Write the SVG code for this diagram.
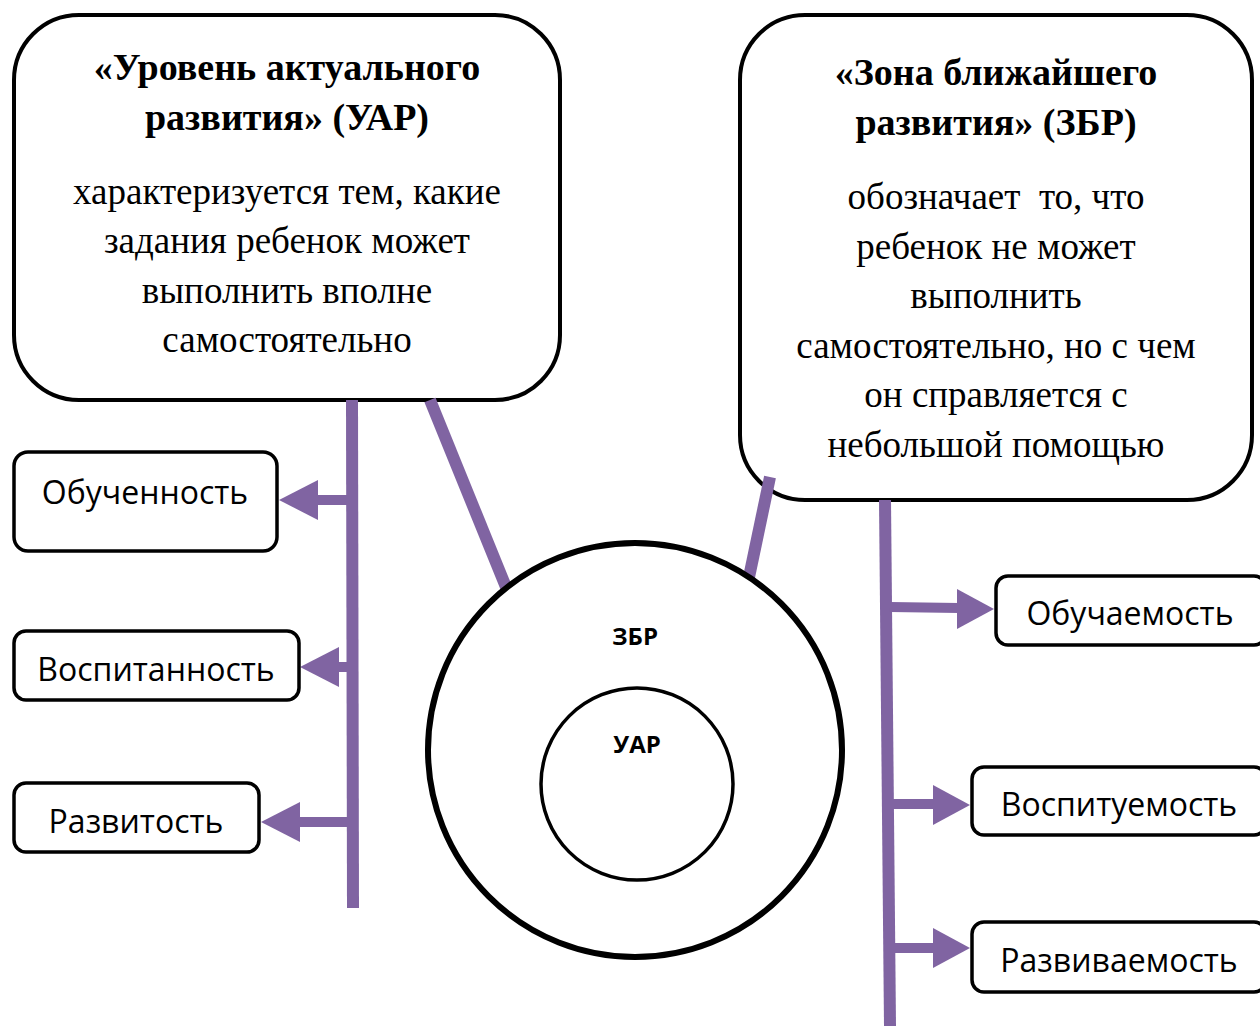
<svg xmlns="http://www.w3.org/2000/svg" width="1260" height="1027" viewBox="0 0 1260 1027">
<style>
.box{fill:#fff;stroke:#000;stroke-width:4}
.sbox{fill:#fff;stroke:#000;stroke-width:3.5}
.title{font-family:"Liberation Serif",serif;font-weight:bold;font-size:38px;text-anchor:middle}
.body{font-family:"Liberation Serif",serif;font-size:37px;text-anchor:middle}
.lbl{font-family:"Open Sans",sans-serif;font-size:32px;text-anchor:middle}
.cl{font-family:"Open Sans",sans-serif;font-weight:bold;font-size:24px;text-anchor:middle}
.ln{stroke:#8064A2;stroke-width:12;fill:none}
.sh{stroke:#8064A2;stroke-width:10;fill:none}
.ah{fill:#8064A2}
</style>
<rect width="1260" height="1027" fill="#fff"/>
<g id="uar-box">
<rect class="box" x="14" y="15" width="546" height="385" rx="65"/>
<text class="title" x="287" y="80">«Уровень актуального</text>
<text class="title" x="287" y="130">развития» (УАР)</text>
<text class="body" x="287" y="204">характеризуется тем, какие</text>
<text class="body" x="287" y="253">задания ребенок может</text>
<text class="body" x="287" y="303">выполнить вполне</text>
<text class="body" x="287" y="352">самостоятельно</text>
</g>
<g id="zbr-box">
<rect class="box" x="740" y="15" width="512" height="485" rx="65"/>
<text class="title" x="996" y="85">«Зона ближайшего</text>
<text class="title" x="996" y="135">развития» (ЗБР)</text>
<text class="body" x="996" y="209" xml:space="preserve">обозначает  то, что</text>
<text class="body" x="996" y="259">ребенок не может</text>
<text class="body" x="996" y="308">выполнить</text>
<text class="body" x="996" y="358">самостоятельно, но с чем</text>
<text class="body" x="996" y="407">он справляется с</text>
<text class="body" x="996" y="457">небольшой помощью</text>
</g>
<g id="connectors">
<line class="ln" x1="352" y1="400" x2="353" y2="908"/>
<line class="ln" x1="430" y1="400" x2="508" y2="592"/>
<line class="ln" x1="770" y1="477" x2="748" y2="582"/>
<line class="ln" x1="885" y1="500" x2="890" y2="1026"/>
<line class="sh" x1="348" y1="500" x2="316" y2="500"/>
<polygon class="ah" points="279,500 318,480 318,520"/>
<line class="sh" x1="348" y1="667" x2="336" y2="667"/>
<polygon class="ah" points="300,667 339,647 339,687"/>
<line class="sh" x1="348" y1="822" x2="296" y2="822"/>
<polygon class="ah" points="261,822 300,802 300,842"/>
<line class="sh" x1="890" y1="607" x2="959" y2="608"/>
<polygon class="ah" points="994,609 957,589 957,629"/>
<line class="sh" x1="891" y1="804" x2="935" y2="804"/>
<polygon class="ah" points="970,805 933,785 933,825"/>
<line class="sh" x1="892" y1="948" x2="935" y2="948"/>
<polygon class="ah" points="970,948 933,928 933,968"/>
</g>
<g id="circles">
<circle cx="635" cy="750" r="207" fill="#fff" stroke="#000" stroke-width="6"/>
<text class="cl" x="635" y="645">ЗБР</text>
<circle cx="637" cy="784" r="96" fill="#fff" stroke="#000" stroke-width="3.5"/>
<text class="cl" x="637" y="753">УАР</text>
</g>
<g id="n-obuch">
<rect class="sbox" x="14" y="452" width="263" height="99" rx="14"/>
<text class="lbl" x="145" y="504">Обученность</text>
</g>
<g id="n-vospit">
<rect class="sbox" x="14" y="631" width="285" height="69" rx="12"/>
<text class="lbl" x="156" y="681">Воспитанность</text>
</g>
<g id="n-razv">
<rect class="sbox" x="14" y="783" width="245" height="69" rx="12"/>
<text class="lbl" x="136" y="833">Развитость</text>
</g>
<g id="n-obuchaem">
<rect class="sbox" x="996" y="576" width="270" height="69" rx="12"/>
<text class="lbl" x="1130" y="625">Обучаемость</text>
</g>
<g id="n-vospituem">
<rect class="sbox" x="972" y="767" width="294" height="68" rx="12"/>
<text class="lbl" x="1119" y="816">Воспитуемость</text>
</g>
<g id="n-razvivaem">
<rect class="sbox" x="972" y="922" width="294" height="70" rx="12"/>
<text class="lbl" x="1119" y="972">Развиваемость</text>
</g>
</svg>
